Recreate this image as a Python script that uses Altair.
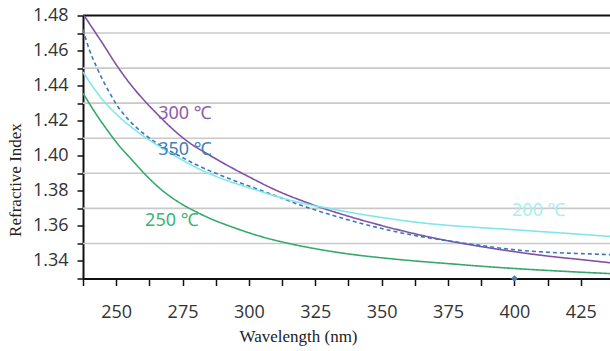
import altair as alt
import pandas as pd

# ---- data ----
wl_300 = [237.5, 240, 245, 250, 255, 260, 265, 270, 277.5, 285, 292.5, 300, 310, 325, 337.5, 350, 362.5, 375, 387.5, 400, 412.5, 425, 436]
n_300 = [1.4810, 1.4752, 1.4638, 1.4520, 1.4415, 1.4325, 1.4245, 1.4170, 1.4075, 1.4005, 1.3940, 1.3880, 1.3805, 1.3716, 1.3655, 1.3602, 1.3555, 1.3515, 1.3482, 1.3453, 1.3428, 1.3408, 1.3390]

wl_350 = [237.5, 240, 242.5, 245, 247.5, 250, 255, 260, 265, 270, 275, 280, 287.5, 295, 305, 319, 335, 350, 362.5, 375, 387.5, 400, 412.5, 425, 436]
n_350 = [1.4720, 1.4600, 1.4510, 1.4430, 1.4360, 1.4295, 1.4200, 1.4130, 1.4075, 1.4030, 1.3990, 1.3950, 1.3900, 1.3855, 1.3800, 1.3721, 1.3645, 1.3585, 1.3545, 1.3515, 1.3488, 1.3464, 1.3450, 1.3442, 1.3436]

wl_200 = [237.5, 240, 245, 250, 255, 260, 265, 270, 275, 281.6, 290, 300, 310, 320, 330, 340, 350, 362.5, 375, 387.5, 400, 412.5, 425, 436]
n_200 = [1.4478, 1.4420, 1.4318, 1.4238, 1.4172, 1.4115, 1.4065, 1.4018, 1.3975, 1.3922, 1.3868, 1.3818, 1.3770, 1.3730, 1.3700, 1.3672, 1.3648, 1.3622, 1.3603, 1.3590, 1.3578, 1.3565, 1.3552, 1.3540]

wl_250 = [237.5, 242.6, 247, 250.8, 255.3, 261.6, 267.8, 274, 280.4, 286.5, 292.9, 304.2, 315, 325, 337.5, 350, 362.5, 375, 387.5, 400, 412.5, 425, 436]
n_250 = [1.4357, 1.4234, 1.4139, 1.4063, 1.3987, 1.3883, 1.3797, 1.3731, 1.3678, 1.3635, 1.3598, 1.3541, 1.3500, 1.3470, 1.3440, 1.3418, 1.3400, 1.3385, 1.3370, 1.3357, 1.3346, 1.3336, 1.3328]

series_names = ["300 ℃", "350 ℃", "200 ℃", "250 ℃"]
series_colors = ["#7f52a6", "#3a78b8", "#7fe6ec", "#35a96c"]
label_colors = ["#8a5cb0", "#3f7fba", "#a8eef2", "#3cb374"]
series_dash = [[1, 0], [4, 3], [1, 0], [1, 0]]

label_wl = [265.8, 265.8, 399.1, 260.9]
label_n = [1.4240, 1.4035, 1.3687, 1.3630]

x_tick_values = [237.5, 250, 262.5, 275, 287.5, 300, 312.5, 325, 337.5, 350, 362.5, 375, 387.5, 400, 412.5, 425, 437.5]
y_tick_values = [1.33, 1.34, 1.35, 1.36, 1.37, 1.38, 1.39, 1.40, 1.41, 1.42, 1.43, 1.44, 1.45, 1.46, 1.47, 1.48]
grid_values = [1.35, 1.37, 1.39, 1.41, 1.43, 1.45, 1.47]
marker_wl = [400]
marker_n = [1.33]

# ---- tables ----
rows = []
for name, wl, n in zip(series_names, [wl_300, wl_350, wl_200, wl_250], [n_300, n_350, n_200, n_250]):
    for a, b in zip(wl, n):
        rows.append({"series": name, "wl": a, "n": b})
df = pd.DataFrame(rows)
labels_df = pd.DataFrame({"series": series_names, "wl": label_wl, "n": label_n, "lc": label_colors})
grid_df = pd.DataFrame({"g": grid_values})
marker_df = pd.DataFrame({"wl": marker_wl, "n": marker_n})

xscale = alt.Scale(domain=[237.5, 436], nice=False, zero=False)
yscale = alt.Scale(domain=[1.33, 1.48], nice=False, zero=False)

tick_font = "Open Sans"
title_font = "Liberation Serif"

x_axis = alt.Axis(
    values=x_tick_values,
    tickCount=100,
    labelExpr="datum.value % 25 == 0 ? format(datum.value, 'd') : ''",
    title="Wavelength (nm)",
    grid=False,
    domainColor="#111", domainWidth=2,
    tickColor="#111", tickWidth=1.5, tickSize=7,
    labelFont=tick_font, labelFontSize=18, labelColor="#333",
    labelBaseline="middle", labelPadding=27,
    labelFlush=False, labelOverlap=False,
    titleFont=title_font, titleFontSize=17, titleFontWeight="normal", titleColor="#222",
    titleX=215, titleY=58, titleBaseline="middle", titleAlign="center",
)
y_axis = alt.Axis(
    values=y_tick_values,
    tickCount=100,
    labelExpr="round(datum.value * 100) % 2 == 0 ? format(datum.value, '.2f') : ''",
    title="Refractive Index",
    grid=False,
    domainColor="#111", domainWidth=2,
    tickColor="#111", tickWidth=1.5, tickSize=6,
    labelFont=tick_font, labelFontSize=18, labelColor="#333",
    labelPadding=9, labelFlush=False, labelOverlap=False,
    titleFont=title_font, titleFontSize=17, titleFontWeight="normal", titleColor="#222",
    titleX=-68, titleY=164, titleAngle=-90, titleAlign="center", titleBaseline="middle",
)

grid = alt.Chart(grid_df).mark_rule(color="#c9c9c9", strokeWidth=1.6).encode(
    y=alt.Y("g:Q", scale=yscale, axis=y_axis)
)
top = alt.Chart(pd.DataFrame({"t": [1.48]})).mark_rule(color="#111", strokeWidth=2).encode(
    y=alt.Y("t:Q", scale=yscale, axis=y_axis)
)

lines = alt.Chart(df).mark_line(strokeWidth=1.6, clip=True, interpolate="monotone").encode(
    x=alt.X("wl:Q", scale=xscale, axis=x_axis),
    y=alt.Y("n:Q", scale=yscale, axis=y_axis),
    color=alt.Color("series:N", scale=alt.Scale(domain=series_names, range=series_colors), legend=None),
    strokeDash=alt.StrokeDash("series:N", scale=alt.Scale(domain=series_names, range=series_dash), legend=None),
    detail="series:N",
)

texts = alt.Chart(labels_df).mark_text(align="left", baseline="middle", font="Noto Sans", fontSize=18).encode(
    x=alt.X("wl:Q", scale=xscale, axis=x_axis),
    y=alt.Y("n:Q", scale=yscale, axis=y_axis),
    text="series:N",
    color=alt.Color("lc:N", scale=None),
)

marker = alt.Chart(marker_df).mark_point(shape="diamond", filled=True, size=45, color="#4a78c0", opacity=1, clip=False).encode(
    x=alt.X("wl:Q", scale=xscale, axis=x_axis),
    y=alt.Y("n:Q", scale=yscale, axis=y_axis),
)

chart = alt.layer(grid, top, lines, texts, marker).properties(
    width=527, height=263,
    autosize=alt.AutoSizeParams(type="none"),
    padding={"left": 83, "top": 15.5, "right": 0, "bottom": 72.5},
    background="white",
).configure_view(stroke=None)

chart.save("out.html", embed_options={"renderer": "svg", "actions": False})
